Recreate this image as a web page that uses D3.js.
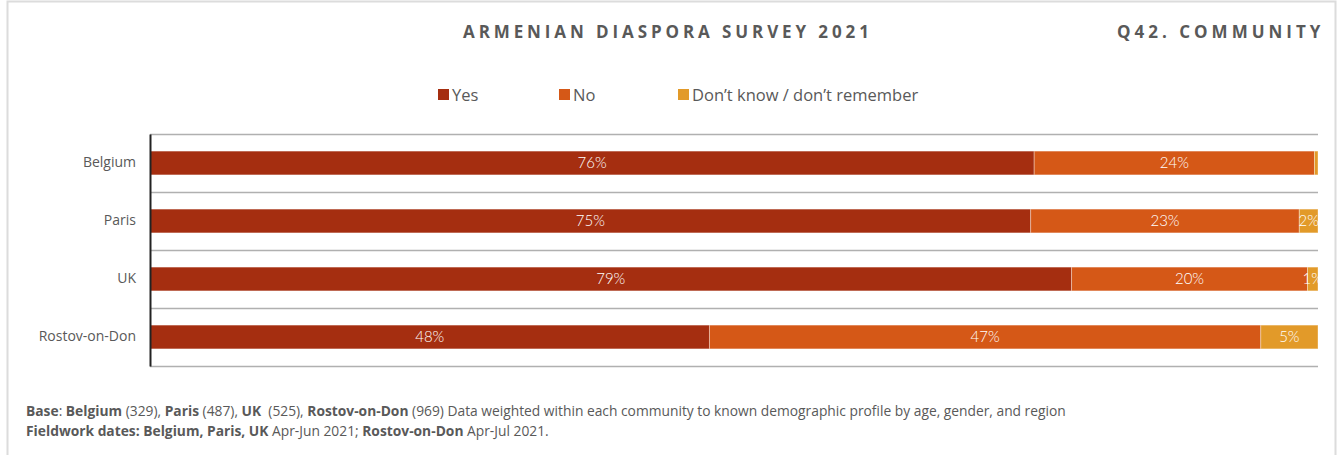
<!DOCTYPE html>
<html><head><meta charset="utf-8">
<script src="https://cdn.jsdelivr.net/npm/d3@7"></script>
<style>
body{margin:0;background:#fff;}
svg{display:block;}
</style></head>
<body>
<svg id="chart" width="1344" height="455"></svg>
<script>
const categories = ["Belgium", "Paris", "UK", "Rostov-on-Don"];
const seriesNames = ["Yes", "No", "Don\u2019t know / don\u2019t remember"];
const yesValues = [75.7, 75.4, 78.9, 47.9];
const noValues = [24.0, 23.0, 20.2, 47.2];
const dkValues = [0.3, 1.6, 0.9, 4.9];
const colors = ["#A52E10", "#D55817", "#E29A29"];

const svg = d3.select("#chart");
const font = "'Open Sans', sans-serif";

// frame
svg.append("path").attr("d","M7.5,455 V1.5 H1335.5 V455").attr("fill","none").attr("stroke","#dcdcdc").attr("stroke-width",2);

// titles
svg.append("text").attr("x",463).attr("y",38).text("ARMENIAN DIASPORA SURVEY 2021")
  .attr("font-family",font).attr("font-weight",700).attr("font-size",17).attr("letter-spacing",3.9).attr("fill","#595959");
svg.append("text").attr("x",1117).attr("y",38).text("Q42. COMMUNITY")
  .attr("font-family",font).attr("font-weight",700).attr("font-size",17).attr("letter-spacing",4.0).attr("fill","#595959");

// legend
const legendX = [438, 559, 678];
seriesNames.forEach((s,i)=>{
  svg.append("rect").attr("x",legendX[i]).attr("y",89).attr("width",11).attr("height",11).attr("fill",colors[i]);
  svg.append("text").attr("x",legendX[i]+14).attr("y",100.5).text(s)
    .attr("font-family",font).attr("font-size",16.5).attr("fill","#595959");
});

const x = d3.scaleLinear().domain([0,100]).range([150,1318]);
const y = d3.scaleBand().domain(categories).range([134,366]).paddingInner(0.59).paddingOuter(0.295);

// gridlines at band boundaries
const bounds = d3.range(categories.length+1).map(i=>134 + i*y.step());
svg.selectAll("line.grid").data(bounds).join("line").attr("class","grid")
  .attr("x1",150).attr("x2",1318).attr("y1",d=>d+0.5).attr("y2",d=>d+0.5)
  .attr("stroke","#b0b0b0").attr("stroke-width",1.5);

// stacked data
const rows = categories.map((c,i)=>({cat:c, s0:yesValues[i], s1:noValues[i], s2:dkValues[i]}));
const stack = d3.stack().keys(["s0","s1","s2"])(rows);

stack.forEach((layer,li)=>{
  const g = svg.append("g");
  g.selectAll("rect").data(layer).join("rect")
    .attr("x",d=>x(d[0])).attr("width",d=>x(d[1])-x(d[0]))
    .attr("y",d=>y(d.data.cat)).attr("height",y.bandwidth())
    .attr("fill",colors[li]).attr("stroke","rgba(255,255,255,0.35)").attr("stroke-width",1);
  g.selectAll("text").data(layer.filter(d=>Math.round(d[1]-d[0])>0)).join("text")
    .attr("x",d=>(x(d[0])+x(d[1]))/2).attr("y",d=>y(d.data.cat)+y.bandwidth()/2+5)
    .attr("text-anchor","middle").text(d=>Math.round(d[1]-d[0])+"%")
    .attr("font-family","'Lato', sans-serif").attr("font-weight",300).attr("font-size",15).attr("fill","#fff");
});

// axis
const yAxis = d3.axisLeft(y).tickSize(0).tickPadding(14);
const ag = svg.append("g").attr("transform","translate(150,0)").call(yAxis);
ag.select(".domain").attr("stroke","#222").attr("stroke-width",2);
ag.selectAll("text").attr("font-family",font).attr("font-size",14).attr("fill","#595959");

// footnote
const foot = svg.append("g").attr("font-family",font).attr("font-size",13.8).attr("fill","#595959");
const t1 = foot.append("text").attr("x",26).attr("y",416);
[["Base",1],[": ",0],["Belgium",1],[" (329), ",0],["Paris",1],[" (487), ",0],["UK",1],["  (525), ",0],["Rostov-on-Don",1],[" (969) Data weighted within each community to known demographic profile by age, gender, and region",0]]
 .forEach(([t,b])=>t1.append("tspan").text(t).attr("font-weight",b?700:400).attr("xml:space","preserve"));
const t2 = foot.append("text").attr("x",26).attr("y",436);
[["Fieldwork dates: Belgium, Paris, UK",1],[" Apr-Jun 2021; ",0],["Rostov-on-Don",1],[" Apr-Jul 2021.",0]]
 .forEach(([t,b])=>t2.append("tspan").text(t).attr("font-weight",b?700:400));
</script>
</body></html>
